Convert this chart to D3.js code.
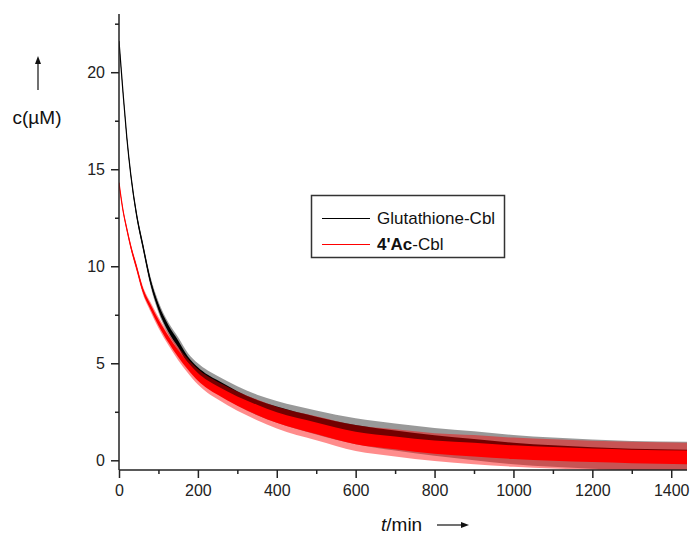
<!DOCTYPE html>
<html>
<head>
<meta charset="utf-8">
<script src="https://cdn.jsdelivr.net/npm/d3@7"></script>
<style>
  body { margin: 0; background: #fff; }
  svg { font-family: "Liberation Sans", Arial, sans-serif; }
</style>
</head>
<body>
<svg id="chart" width="693" height="538"></svg>
<script>
const times = [0, 10, 20, 30, 45, 60, 80, 100, 125, 150, 175, 200, 225, 250, 300, 350, 400, 500, 600, 700, 800, 900, 1000, 1100, 1200, 1300, 1440];

// mean of each noisy trace (µM)
const glutathioneMean = [21.6, 19.0, 16.6, 14.7, 12.6, 11.1, 9.2, 7.9, 6.8, 6.0, 5.15, 4.6, 4.2, 3.9, 3.32, 2.85, 2.5, 1.95, 1.5, 1.2, 0.95, 0.75, 0.55, 0.42, 0.32, 0.25, 0.2];
const acMean = [14.3, 12.9, 11.9, 11.0, 9.9, 8.8, 7.9, 7.1, 6.25, 5.5, 4.85, 4.3, 3.9, 3.6, 3.05, 2.6, 2.2, 1.65, 1.15, 0.9, 0.68, 0.55, 0.42, 0.33, 0.26, 0.2, 0.15];

// half width of the dense noise band, and of the outer spikes (µM)
const coreSpread = [0.03, 0.05, 0.07, 0.08, 0.1, 0.11, 0.13, 0.15, 0.17, 0.18, 0.19, 0.2, 0.21, 0.22, 0.24, 0.26, 0.27, 0.3, 0.32, 0.33, 0.34, 0.35, 0.35, 0.35, 0.35, 0.35, 0.35];
const spikeSpread = [0.08, 0.1, 0.13, 0.15, 0.18, 0.2, 0.24, 0.28, 0.31, 0.34, 0.37, 0.4, 0.43, 0.45, 0.5, 0.53, 0.56, 0.62, 0.67, 0.7, 0.72, 0.75, 0.75, 0.75, 0.75, 0.75, 0.75];

const xMajor = [0, 200, 400, 600, 800, 1000, 1200, 1400];
const xMinor = [100, 300, 500, 700, 900, 1100, 1300];
const yMajor = [0, 5, 10, 15, 20];
const yMinor = [2.5, 7.5, 12.5, 17.5, 22.5];

const svg = d3.select("#chart");

const x = d3.scaleLinear().domain([0, 1440]).range([119, 687]);
const y = d3.scaleLinear().domain([-0.5, 23]).range([470, 14]);

svg.append("clipPath").attr("id", "plotClip")
  .append("rect").attr("x", 119).attr("y", 14).attr("width", 568).attr("height", 456);

const plot = svg.append("g").attr("clip-path", "url(#plotClip)");

function drawTrace(mean, color, faded) {
  const rows = times.map((t, i) => ({ t: t, m: mean[i], c: coreSpread[i], s: spikeSpread[i] }));

  // outer spikes
  plot.append("path")
    .datum(rows)
    .attr("fill", faded)
    .attr("d", d3.area()
      .curve(d3.curveMonotoneX)
      .x(d => x(d.t))
      .y0(d => y(d.m - d.s))
      .y1(d => y(d.m + d.s)));

  // dense core of the noise
  plot.append("path")
    .datum(rows)
    .attr("fill", color)
    .attr("d", d3.area()
      .curve(d3.curveMonotoneX)
      .x(d => x(d.t))
      .y0(d => y(d.m - d.c))
      .y1(d => y(d.m + d.c)));

  plot.append("path")
    .datum(rows)
    .attr("fill", "none")
    .attr("stroke", color)
    .attr("stroke-width", 1.2)
    .attr("d", d3.line()
      .curve(d3.curveMonotoneX)
      .x(d => x(d.t))
      .y(d => y(d.m)));
}

drawTrace(glutathioneMean, "#000", "rgba(0,0,0,0.4)");
drawTrace(acMean, "#ff0000", "rgba(255,0,0,0.45)");

// axes
const axisColor = "#222";

const yAxis = svg.append("g").attr("transform", "translate(119,0)")
  .call(d3.axisLeft(y).tickValues(yMajor).tickSize(8).tickPadding(6).tickFormat(d3.format("d")));
svg.append("g").attr("transform", "translate(119,0)")
  .call(d3.axisLeft(y).tickValues(yMinor).tickSize(4).tickFormat(""))
  .select(".domain").remove();

const xAxis = svg.append("g").attr("transform", "translate(0,470)")
  .call(d3.axisBottom(x).tickValues(xMajor).tickSize(8).tickPadding(7).tickFormat(d3.format("d")));
svg.append("g").attr("transform", "translate(0,470)")
  .call(d3.axisBottom(x).tickValues(xMinor).tickSize(4).tickFormat(""))
  .select(".domain").remove();

yAxis.select(".domain").attr("d", "M0,14V470");
xAxis.select(".domain").attr("d", "M119,0H687");

svg.selectAll(".domain, .tick line")
  .attr("stroke", axisColor)
  .attr("stroke-width", 1.5);
svg.selectAll(".tick text")
  .attr("fill", "#222")
  .style("font-size", "16px")
  .style("font-family", "'Liberation Sans', Arial, sans-serif");

// y label with arrow
svg.append("line")
  .attr("x1", 38).attr("x2", 38).attr("y1", 90).attr("y2", 62)
  .attr("stroke", "#111").attr("stroke-width", 1.2);
svg.append("path")
  .attr("d", "M38,56L35,64L41,64Z")
  .attr("fill", "#111");
svg.append("text")
  .attr("x", 37).attr("y", 124)
  .attr("text-anchor", "middle")
  .style("font-size", "19px")
  .attr("fill", "#111")
  .text("c(µM)");

// x label with arrow
const xLabel = svg.append("text")
  .attr("x", 381).attr("y", 531)
  .style("font-size", "19px")
  .attr("fill", "#111");
xLabel.append("tspan").style("font-style", "italic").text("t");
xLabel.append("tspan").text("/min");

svg.append("line")
  .attr("x1", 437).attr("x2", 462).attr("y1", 525).attr("y2", 525)
  .attr("stroke", "#111").attr("stroke-width", 1.2);
svg.append("path")
  .attr("d", "M469,525L461,522L461,528Z")
  .attr("fill", "#111");

// legend
const legend = svg.append("g");
legend.append("rect")
  .attr("x", 311.5).attr("y", 195.5).attr("width", 193).attr("height", 62)
  .attr("fill", "#fff")
  .attr("stroke", "#333").attr("stroke-width", 1.5);

const legendRows = [
  { color: "#000", y: 218.5 },
  { color: "#ff0000", y: 244.5 }
];
legend.selectAll("line.key")
  .data(legendRows)
  .enter().append("line")
  .attr("class", "key")
  .attr("x1", 322).attr("x2", 370)
  .attr("y1", d => d.y).attr("y2", d => d.y)
  .attr("stroke", d => d.color)
  .attr("stroke-width", 1);

legend.append("text")
  .attr("x", 377).attr("y", 224)
  .style("font-size", "17px")
  .attr("fill", "#111")
  .text("Glutathione-Cbl");

const t2 = legend.append("text")
  .attr("x", 377).attr("y", 250)
  .style("font-size", "17px")
  .attr("fill", "#111");
t2.append("tspan").style("font-weight", "bold").text("4'Ac");
t2.append("tspan").text("-Cbl");
</script>
</body>
</html>
